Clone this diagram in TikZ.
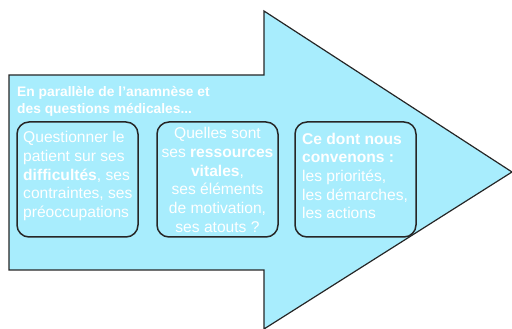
\documentclass[tikz,border=0pt]{standalone}
\usepackage{fontspec}
\setmainfont{Liberation Sans}
\definecolor{arrowfill}{HTML}{A8EDFD}
\definecolor{edge}{HTML}{262626}
\begin{document}
\begin{tikzpicture}[x=1pt,y=1pt,
  bigarrow/.style={draw=edge,fill=arrowfill,line width=1.2pt,line join=miter},
  infobox/.style={draw=edge,line width=1.5pt,rounded corners=12pt,
    minimum width=121pt,minimum height=115pt,inner sep=0pt},
  boxtext/.style={text=white,inner sep=0pt,font=\fontsize{15.6}{18.7}\selectfont},
  heading/.style={text=white,align=left,inner sep=0pt,
    font=\bfseries\fontsize{13.8}{17.5}\selectfont}]
\useasboundingbox (0,0) rectangle (512,329);
% arrow outline
\coordinate (bl) at (9,59);
\coordinate (tl) at (9,254);
\coordinate (nt) at (264,254);
\coordinate (ht) at (264,318);
\coordinate (tip) at (512,157);
\coordinate (hb) at (264,0);
\coordinate (nb) at (264,59);
\draw[bigarrow] (bl) -- (tl) -- (nt) -- (ht) -- (tip) -- (hb) -- (nb) -- cycle;
% heading
\node[heading,anchor=north west] (head) at (17,243)
  {En parallèle de l’anamnèse et\\des questions médicales...};
% the three boxes
\node[infobox] (b1) at (77.5,149.5) {};
\node[infobox] (b2) at (217.5,149.5) {};
\node[infobox] (b3) at (355.5,149.5) {};
% their texts
\node[boxtext,align=left,anchor=west] (t1) at (23,153)
  {Questionner le\\patient sur ses\\\textbf{difficultés}, ses\\contraintes, ses\\préoccupations};
\node[boxtext,align=center] (t2) at (217.5,149)
  {Quelles sont\\ses \textbf{ressources}\\\textbf{vitales},\\ses éléments\\de motivation,\\ses atouts ?};
\node[boxtext,align=left,anchor=west] (t3) at (302,153)
  {\textbf{Ce dont nous}\\\textbf{convenons :}\\les priorités,\\les démarches,\\les actions};
\end{tikzpicture}
\end{document}
